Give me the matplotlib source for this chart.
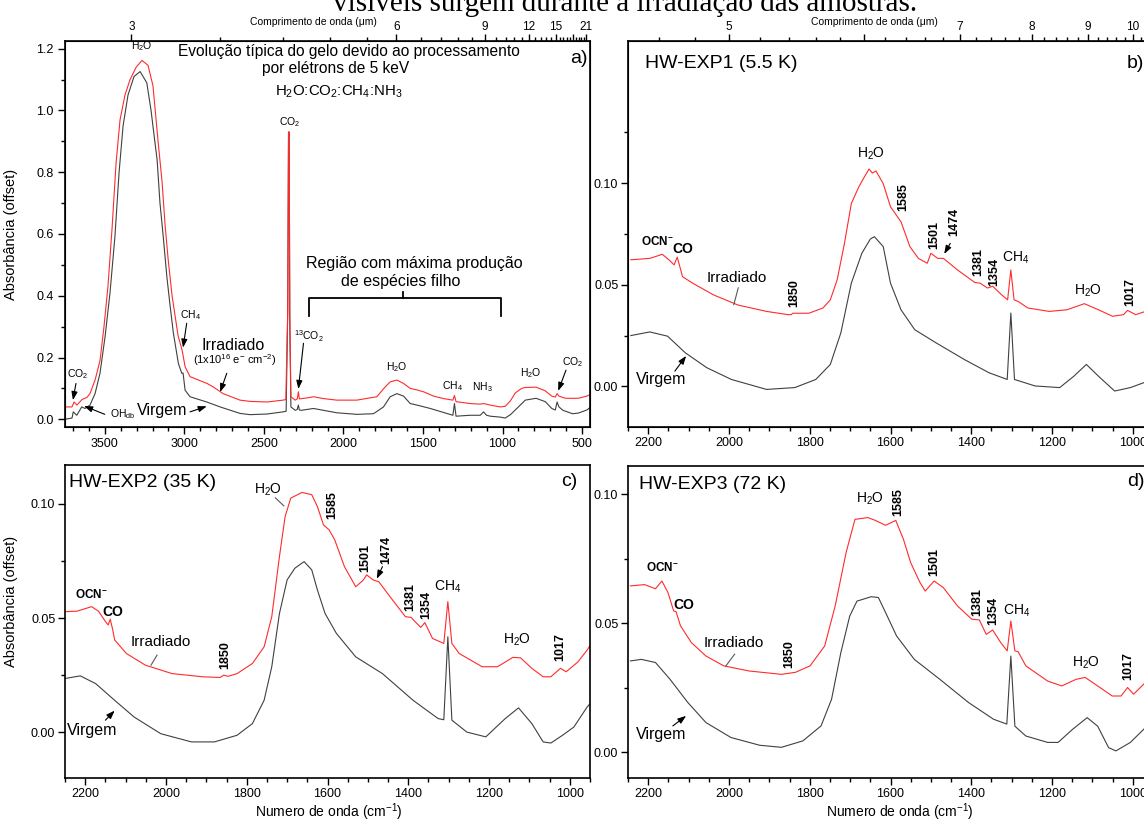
import matplotlib
matplotlib.use('Agg')
import matplotlib.pyplot as plt
import numpy as np
from matplotlib.ticker import MultipleLocator, FixedLocator, FormatStrFormatter

plt.rcParams['font.family'] = ['Liberation Sans', 'DejaVu Sans']
plt.rcParams['mathtext.default'] = 'regular'

# ---- panel a: full spectrum (cm-1 vs absorbance) ----
a_wn_irr = [3750, 3706, 3693, 3675, 3643, 3612, 3593, 3561, 3530, 3505, 3480, 3454, 3429, 3404,
            3373, 3341, 3303, 3266, 3228, 3197, 3165, 3140, 3121, 3102, 3077, 3039, 3014, 2995,
            2964, 2857, 2819, 2756, 2650, 2587, 2480, 2379, 2362, 2350, 2345, 2341, 2337, 2330,
            2303, 2290, 2283, 2277, 2230, 2188, 2125, 2041, 1916, 1790, 1737, 1706, 1664, 1622,
            1580, 1538, 1496, 1433, 1370, 1312, 1302, 1292, 1203, 1140, 1119, 1077, 1014, 983,
            950, 920, 880, 857, 789, 731, 690, 668, 657, 645, 605, 524, 470, 450]
a_irr = [0.040, 0.040, 0.056, 0.046, 0.064, 0.071, 0.083, 0.127, 0.19, 0.30, 0.43, 0.62, 0.83, 0.97,
         1.05, 1.10, 1.14, 1.162, 1.146, 1.08, 0.90, 0.77, 0.63, 0.52, 0.40, 0.27, 0.224, 0.17,
         0.138, 0.116, 0.105, 0.083, 0.062, 0.058, 0.056, 0.062, 0.064, 0.35, 0.93, 0.93, 0.35, 0.073,
         0.062, 0.066, 0.089, 0.066, 0.069, 0.073, 0.067, 0.062, 0.062, 0.073, 0.105, 0.121, 0.127, 0.116,
         0.100, 0.095, 0.089, 0.075, 0.067, 0.062, 0.077, 0.057, 0.051, 0.049, 0.051, 0.046, 0.040, 0.042,
         0.060, 0.085, 0.100, 0.103, 0.104, 0.092, 0.075, 0.072, 0.083, 0.075, 0.068, 0.068, 0.075, 0.080]
a_wn_virg = [3750, 3706, 3698, 3676, 3645, 3624, 3593, 3561, 3530, 3498, 3467, 3436, 3410, 3385,
             3354, 3316, 3278, 3236, 3209, 3195, 3171, 3153, 3134, 3110, 3090, 3069, 3037, 3016,
             3008, 2995, 2964, 2859, 2775, 2650, 2587, 2480, 2379, 2360, 2350, 2345, 2341, 2337,
             2330, 2303, 2290, 2283, 2277, 2265, 2188, 2125, 2041, 1916, 1811, 1748, 1706, 1664,
             1622, 1580, 1538, 1454, 1312, 1302, 1292, 1203, 1140, 1119, 1100, 1077, 1014, 983,
             950, 900, 857, 789, 731, 690, 668, 657, 645, 620, 560, 524, 470, 450]
a_virg = [0.000, 0.004, 0.024, 0.013, 0.040, 0.035, 0.046, 0.083, 0.149, 0.268, 0.41, 0.593, 0.80, 0.95,
          1.05, 1.11, 1.126, 1.09, 1.00, 0.94, 0.84, 0.70, 0.60, 0.463, 0.37, 0.28, 0.18, 0.149,
          0.150, 0.094, 0.073, 0.056, 0.040, 0.019, 0.015, 0.017, 0.024, 0.026, 0.35, 0.93, 0.93, 0.30,
          0.040, 0.029, 0.032, 0.046, 0.030, 0.029, 0.035, 0.029, 0.021, 0.016, 0.018, 0.040, 0.073, 0.083,
          0.075, 0.051, 0.046, 0.035, 0.013, 0.051, 0.010, 0.013, 0.013, 0.024, 0.013, 0.010, 0.007, 0.004,
          0.015, 0.040, 0.062, 0.068, 0.057, 0.035, 0.030, 0.056, 0.040, 0.029, 0.018, 0.020, 0.030, 0.038]

# ---- panel b: HW-EXP1 (5.5 K) ----
b_wn_irr = [2243, 2196, 2165, 2147, 2136, 2128, 2115, 2090, 2038, 1977, 1907, 1854, 1846, 1842,
            1802, 1767, 1749, 1732, 1714, 1697, 1679, 1665, 1653, 1645, 1636, 1618, 1600, 1574,
            1552, 1531, 1509, 1500, 1483, 1469, 1434, 1391, 1378, 1360, 1347, 1325, 1310, 1302,
            1294, 1284, 1260, 1207, 1163, 1120, 1085, 1050, 1023, 1013, 993, 973, 960]
b_irr = [0.0623, 0.0630, 0.0650, 0.0620, 0.0598, 0.0636, 0.0540, 0.0508, 0.0450, 0.0400, 0.0369, 0.0353, 0.0353, 0.0360,
         0.0360, 0.0386, 0.0426, 0.0525, 0.0704, 0.0900, 0.0980, 0.1030, 0.1070, 0.1050, 0.1060, 0.0998, 0.0884, 0.0810,
         0.0688, 0.0630, 0.0606, 0.0655, 0.0630, 0.0630, 0.0573, 0.0511, 0.0508, 0.0484, 0.0493, 0.0451, 0.0426, 0.0573,
         0.0426, 0.0418, 0.0386, 0.0369, 0.0377, 0.0407, 0.0377, 0.0345, 0.0353, 0.0374, 0.0353, 0.0366, 0.0375]
b_wn_virg = [2243, 2196, 2152, 2108, 2055, 1994, 1907, 1837, 1785, 1749, 1723, 1697, 1671, 1650,
             1640, 1618, 1600, 1574, 1540, 1487, 1417, 1356, 1311, 1302, 1293, 1242, 1181, 1146,
             1115, 1085, 1045, 1006, 973, 960]
b_virg = [0.0250, 0.0268, 0.0247, 0.0165, 0.0092, 0.0034, -0.0015, -0.0006, 0.0034, 0.0108, 0.0263, 0.0508, 0.0655, 0.0725,
          0.0737, 0.0688, 0.0508, 0.0377, 0.0279, 0.0214, 0.0132, 0.0067, 0.0034, 0.0361, 0.0034, 0.0002, -0.0006, 0.0050,
          0.0108, 0.0050, -0.0023, -0.0006, 0.0018, 0.0030]

# ---- panel c: HW-EXP2 (35 K) ----
c_wn_irr = [2252, 2221, 2184, 2167, 2150, 2143, 2138, 2132, 2127, 2098, 2051, 1985, 1909, 1866,
            1857, 1846, 1824, 1786, 1757, 1738, 1719, 1705, 1691, 1663, 1639, 1625, 1610, 1596,
            1582, 1558, 1530, 1511, 1503, 1487, 1473, 1445, 1407, 1393, 1383, 1369, 1359, 1340,
            1312, 1302, 1292, 1274, 1217, 1179, 1141, 1122, 1094, 1066, 1047, 1023, 1009, 980, 957, 950]
c_irr = [0.0528, 0.0530, 0.0550, 0.0530, 0.0485, 0.0470, 0.0495, 0.0450, 0.0404, 0.0345, 0.0294, 0.0257, 0.0243, 0.0240,
         0.0250, 0.0245, 0.0257, 0.0301, 0.0374, 0.0506, 0.0769, 0.0944, 0.1025, 0.1050, 0.1040, 0.0988, 0.0908, 0.0886,
         0.0842, 0.0725, 0.0637, 0.0667, 0.0689, 0.0667, 0.0659, 0.0593, 0.0506, 0.0503, 0.0484, 0.0459, 0.0480, 0.0411,
         0.0389, 0.0572, 0.0389, 0.0345, 0.0287, 0.0287, 0.0328, 0.0326, 0.0280, 0.0243, 0.0243, 0.0280, 0.0265, 0.0308, 0.0360, 0.0380]
c_wn_virg = [2252, 2212, 2174, 2127, 2079, 2013, 1937, 1880, 1824, 1786, 1757, 1738, 1719, 1700,
             1681, 1658, 1639, 1625, 1606, 1578, 1530, 1464, 1388, 1326, 1312, 1302, 1292, 1255,
             1208, 1160, 1127, 1094, 1066, 1047, 1018, 990, 957, 950]
c_virg = [0.0235, 0.0247, 0.0213, 0.0140, 0.0067, -0.0006, -0.0042, -0.0042, -0.0013, 0.0038, 0.0140, 0.0287, 0.0520, 0.0667,
          0.0718, 0.0747, 0.0711, 0.0623, 0.0520, 0.0433, 0.0330, 0.0257, 0.0140, 0.0060, 0.0055, 0.0418, 0.0053, 0.0001,
          -0.0020, 0.0060, 0.0107, 0.0038, -0.0042, -0.0047, -0.0013, 0.0023, 0.0111, 0.0125]

# ---- panel d: HW-EXP3 (72 K) ----
d_wn_irr = [2244, 2209, 2182, 2166, 2151, 2137, 2131, 2120, 2093, 2057, 2013, 1950, 1870, 1835,
            1799, 1763, 1737, 1710, 1688, 1656, 1639, 1612, 1587, 1568, 1550, 1527, 1514, 1492,
            1469, 1434, 1399, 1380, 1363, 1347, 1327, 1311, 1302, 1292, 1284, 1265, 1211, 1176,
            1140, 1118, 1087, 1051, 1029, 1013, 998, 973, 960]
d_irr = [0.0645, 0.0650, 0.0634, 0.0664, 0.0619, 0.0548, 0.0545, 0.0490, 0.0425, 0.0373, 0.0335, 0.0315, 0.0302, 0.0310,
         0.0335, 0.0412, 0.0567, 0.0774, 0.0903, 0.0910, 0.0900, 0.0880, 0.0899, 0.0826, 0.0735, 0.0658, 0.0625, 0.0664,
         0.0638, 0.0567, 0.0516, 0.0513, 0.0457, 0.0474, 0.0425, 0.0393, 0.0509, 0.0393, 0.0390, 0.0335, 0.0276, 0.0257,
         0.0283, 0.0290, 0.0257, 0.0218, 0.0218, 0.0251, 0.0225, 0.0264, 0.0280]
d_wn_virg = [2244, 2217, 2182, 2146, 2102, 2057, 1995, 1924, 1870, 1817, 1772, 1746, 1723, 1701,
             1683, 1648, 1630, 1612, 1585, 1541, 1478, 1407, 1345, 1312, 1302, 1292, 1265, 1211,
             1185, 1149, 1113, 1087, 1060, 1042, 1006, 973, 960]
d_virg = [0.0354, 0.0360, 0.0348, 0.0283, 0.0193, 0.0115, 0.0057, 0.0027, 0.0019, 0.0044, 0.0102, 0.0205, 0.0386, 0.0528,
          0.0586, 0.0603, 0.0600, 0.0541, 0.0451, 0.0360, 0.0283, 0.0193, 0.0128, 0.0109, 0.0373, 0.0101, 0.0063, 0.0038,
          0.0038, 0.0089, 0.0134, 0.0101, 0.0018, 0.0005, 0.0038, 0.0089, 0.0110]

# wavelength ticks for the top axes (um)
a_lam_major = [3, 6, 9, 12, 15, 18, 21]
a_lam_labels = ['3', '6', '9', '12', '15', '', '21']
b_lam_major = [5, 6, 7, 8, 9, 10]
b_lam_labels = ['5', '', '7', '8', '9', '10']

RED = '#ff2b2b'
GREY = '#404040'
W, H = 1144, 823

fig = plt.figure(figsize=(W / 100, H / 100), dpi=100)


def box(left, top, right, bottom):
    return fig.add_axes([left / W, 1 - bottom / H, (right - left) / W, (bottom - top) / H])


axa = box(65, 41, 590, 427)
axb = box(628, 41, 1153, 427)
axc = box(65, 465, 590, 778)
axd = box(628, 466, 1153, 778)


def frame(ax, xlim, ylim, xmaj, xmin, ymaj, ymin, fmt):
    ax.set_xlim(*xlim)
    ax.set_ylim(*ylim)
    ax.xaxis.set_major_locator(MultipleLocator(xmaj))
    ax.xaxis.set_minor_locator(MultipleLocator(xmin))
    ax.yaxis.set_major_locator(FixedLocator(ymaj))
    ax.yaxis.set_minor_locator(FixedLocator(ymin))
    ax.yaxis.set_major_formatter(FormatStrFormatter(fmt))
    for s in ax.spines.values():
        s.set_linewidth(1.2)
    ax.tick_params(which='both', direction='out', width=1.0, labelsize=9, top=False, right=False)
    ax.tick_params(which='major', length=5, pad=2)
    ax.tick_params(which='minor', length=3)


def top_axis(ax, lam_major, lam_labels, lam_minor, label_x):
    ax2 = ax.twiny()
    ax2.set_xlim(ax.get_xlim())
    ax2.set_xticks([1e4 / l for l in lam_major])
    ax2.set_xticklabels(lam_labels)
    ax2.set_xticks([1e4 / l for l in lam_minor], minor=True)
    ax2.tick_params(which='both', direction='out', width=1.0, labelsize=8.5, pad=1)
    ax2.tick_params(which='major', length=5)
    ax2.tick_params(which='minor', length=3)
    ax2.set_xlabel('Comprimento de onda (\u03bcm)', fontsize=7.5)
    ax2.xaxis.set_label_coords(label_x, 1.05)
    ax2.xaxis.label.set_va('center')


def spectra(ax, wv, av, wi, ai):
    ax.plot(wv, av, color=GREY, lw=0.8)
    ax.plot(wi, ai, color=RED, lw=0.8)


def t(ax, x, y, s, size=9.5, **kw):
    ax.text(x, y, s, fontsize=size, ha=kw.pop('ha', 'center'), va=kw.pop('va', 'center'), **kw)


def num(ax, x, y, s):
    ax.text(x, y, s, fontsize=9, fontweight='bold', rotation=90, ha='center', va='center')


def arrow(ax, tail, tip):
    ax.annotate('', xy=tip, xytext=tail,
                arrowprops=dict(arrowstyle='-|>,head_length=0.5,head_width=0.18', color='k',
                                lw=0.8, shrinkA=0, shrinkB=0))


def leader(ax, p, q):
    ax.plot([p[0], q[0]], [p[1], q[1]], color='0.35', lw=0.8)


# ---------------- panel a ----------------
spectra(axa, a_wn_virg, a_virg, a_wn_irr, a_irr)
frame(axa, (3750, 450), (-0.025, 1.225), 500, 100,
      [0, 0.2, 0.4, 0.6, 0.8, 1.0, 1.2], [0.1, 0.3, 0.5, 0.7, 0.9, 1.1], '%.1f')
axa.tick_params(axis='both', which='major', pad=3)
axa.set_ylabel('Absorb\u00e2ncia (offset)', fontsize=10.5)
axa.yaxis.set_label_coords(-0.09, 0.5)
top_axis(axa, a_lam_major, a_lam_labels,
         [l for l in np.arange(3.0, 21.01, 0.6) if round(l, 1) not in a_lam_major], 0.474)

t(axa, 3266, 1.21, r'H$_2$O', 7.5)
t(axa, 1964, 1.19, 'Evolu\u00e7\u00e3o t\u00edpica do gelo devido ao processamento', 11.2)
t(axa, 2050, 1.135, 'por el\u00e9trons de 5 keV', 11.2)
t(axa, 2027, 1.061, r'H$_2$O:CO$_2$:CH$_4$:NH$_3$', 10.8)
t(axa, 574, 1.167, 'a)', 14, ha='left')
t(axa, 2341, 0.962, r'CO$_2$', 7.5)
axa.plot([2215, 2215, 1008, 1008], [0.335, 0.3925, 0.3925, 0.335], color='k', lw=1.3)
axa.plot([1624, 1624], [0.3925, 0.411], color='k', lw=1.3)
t(axa, 1555, 0.506, 'Regi\u00e3o com m\u00e1xima produ\u00e7\u00e3o', 11.5)
t(axa, 1637, 0.447, 'de esp\u00e9cies filho', 11.5)
t(axa, 2964, 0.338, r'CH$_4$', 7.5)
arrow(axa, (2985, 0.311), (3008, 0.232))
t(axa, 2691, 0.24, 'Irradiado', 11.5)
t(axa, 2681, 0.192, r'(1x10$^{16}$ e$^{-}$ cm$^{-2}$)', 8)
arrow(axa, (2733, 0.149), (2775, 0.088))
t(axa, 3142, 0.029, 'Virgem', 11.5)
arrow(axa, (2964, 0.024), (2859, 0.042))
t(axa, 3673, 0.146, r'CO$_2$', 7.5)
arrow(axa, (3681, 0.116), (3700, 0.062))
t(axa, 3467, 0.018, r'OH$_{db}$', 7.5, ha='left')
arrow(axa, (3500, 0.016), (3630, 0.043))
t(axa, 2220, 0.268, r'$^{13}$CO$_2$', 7.5)
arrow(axa, (2251, 0.246), (2283, 0.098))
t(axa, 1664, 0.17, r'H$_2$O', 7.5)
t(axa, 1312, 0.107, r'CH$_4$', 7.5)
t(axa, 1125, 0.103, r'NH$_3$', 7.5)
t(axa, 825, 0.149, r'H$_2$O', 7.5)
t(axa, 561, 0.186, r'CO$_2$', 7.5)
arrow(axa, (601, 0.159), (650, 0.092))

# ---------------- panel b ----------------
spectra(axb, b_wn_virg, b_virg, b_wn_irr, b_irr)
frame(axb, (2250, 950), (-0.02, 0.17), 200, 50, [0, 0.05, 0.10], [0.025, 0.075, 0.125], '%.2f')
top_axis(axb, b_lam_major, b_lam_labels,
         [l for l in np.arange(4.6, 10.51, 0.2) if abs(l - round(l)) > 0.05], 0.469)
t(axb, 2208, 0.1588, 'HW-EXP1 (5.5 K)', 14, ha='left')
t(axb, 1015, 0.1588, 'b)', 14, ha='left')
t(axb, 1649, 0.1147, r'H$_2$O', 10)
num(axb, 1569, 0.0931, '1585')
t(axb, 2178, 0.0711, r'OCN$^{-}$', 8.5, fontweight='bold')
t(axb, 2114, 0.0676, 'CO', 10, fontweight='bold')
t(axb, 1980, 0.0534, 'Irradiado', 11)
leader(axb, (1977, 0.0485), (1988, 0.0402))
num(axb, 1839, 0.0461, '1850')
num(axb, 1491, 0.0745, '1501')
num(axb, 1443, 0.0809, '1474')
arrow(axb, (1452, 0.0704), (1467, 0.0652))
num(axb, 1382, 0.0613, '1381')
num(axb, 1343, 0.0564, '1354')
t(axb, 1290, 0.0632, r'CH$_4$', 10)
t(axb, 1111, 0.047, r'H$_2$O', 10)
num(axb, 1006, 0.0466, '1017')
t(axb, 2169, 0.0034, 'Virgem', 11.5)
arrow(axb, (2134, 0.0075), (2106, 0.0150))

# ---------------- panel c ----------------
spectra(axc, c_wn_virg, c_virg, c_wn_irr, c_irr)
frame(axc, (2250, 950), (-0.02, 0.117), 200, 50, [0, 0.05, 0.10], [0.025, 0.075], '%.2f')
axc.set_ylabel('Absorb\u00e2ncia (offset)', fontsize=10.5)
axc.yaxis.set_label_coords(-0.09, 0.563)
axc.set_xlabel('Numero de onda (cm$^{-1}$)', fontsize=10)
axc.xaxis.set_label_coords(0.503, -0.108)
axc.xaxis.label.set_va('center')
t(axc, 2240, 0.1092, 'HW-EXP2 (35 K)', 14, ha='left')
t(axc, 1022, 0.1096, 'c)', 14, ha='left')
t(axc, 1748, 0.1061, r'H$_2$O', 10)
leader(axc, (1729, 0.1026), (1708, 0.0991))
num(axc, 1587, 0.0996, '1585')
num(axc, 1506, 0.0763, '1501')
num(axc, 1454, 0.0798, '1474')
arrow(axc, (1464, 0.0725), (1478, 0.0672))
num(axc, 1396, 0.0593, '1381')
num(axc, 1355, 0.0557, '1354')
t(axc, 1302, 0.0637, r'CH$_4$', 10)
t(axc, 2184, 0.0601, r'OCN$^{-}$', 8.5, fontweight='bold')
t(axc, 2131, 0.0528, 'CO', 10, fontweight='bold')
t(axc, 2013, 0.0396, 'Irradiado', 11)
leader(axc, (2022, 0.0338), (2037, 0.0294))
num(axc, 1854, 0.0338, '1850')
t(axc, 1130, 0.0407, r'H$_2$O', 10)
num(axc, 1023, 0.0374, '1017')
t(axc, 2184, 0.0009, 'Virgem', 11.5)
arrow(axc, (2150, 0.0053), (2127, 0.0095))

# ---------------- panel d ----------------
spectra(axd, d_wn_virg, d_virg, d_wn_irr, d_irr)
frame(axd, (2250, 950), (-0.01, 0.111), 200, 50, [0, 0.05, 0.10], [0.025, 0.075], '%.2f')
axd.set_xlabel('Numero de onda (cm$^{-1}$)', fontsize=10)
axd.xaxis.set_label_coords(0.518, -0.109)
axd.xaxis.label.set_va('center')
t(axd, 2222, 0.1039, 'HW-EXP3 (72 K)', 14, ha='left')
t(axd, 1015, 0.1050, 'd)', 14, ha='left')
t(axd, 1652, 0.0981, r'H$_2$O', 10)
num(axd, 1581, 0.0969, '1585')
t(axd, 2164, 0.0717, r'OCN$^{-}$', 8.5, fontweight='bold')
t(axd, 2111, 0.0571, 'CO', 10, fontweight='bold')
num(axd, 1492, 0.0736, '1501')
num(axd, 1385, 0.0581, '1381')
num(axd, 1345, 0.0548, '1354')
t(axd, 1287, 0.0548, r'CH$_4$', 10)
t(axd, 1988, 0.0425, 'Irradiado', 11)
leader(axd, (1986, 0.038), (2008, 0.0334))
num(axd, 1850, 0.038, '1850')
t(axd, 1115, 0.0345, r'H$_2$O', 10)
num(axd, 1011, 0.0334, '1017')
t(axd, 2168, 0.0067, 'Virgem', 11.5)
arrow(axd, (2139, 0.0102), (2106, 0.0141))

fig.text(625 / W, 1 - 11 / H, 'vis\u00edveis surgem durante a irradia\u00e7\u00e3o das amostras.',
         family='Liberation Serif', fontsize=21, ha='center', va='baseline')

fig.savefig('out.png', dpi=100)
